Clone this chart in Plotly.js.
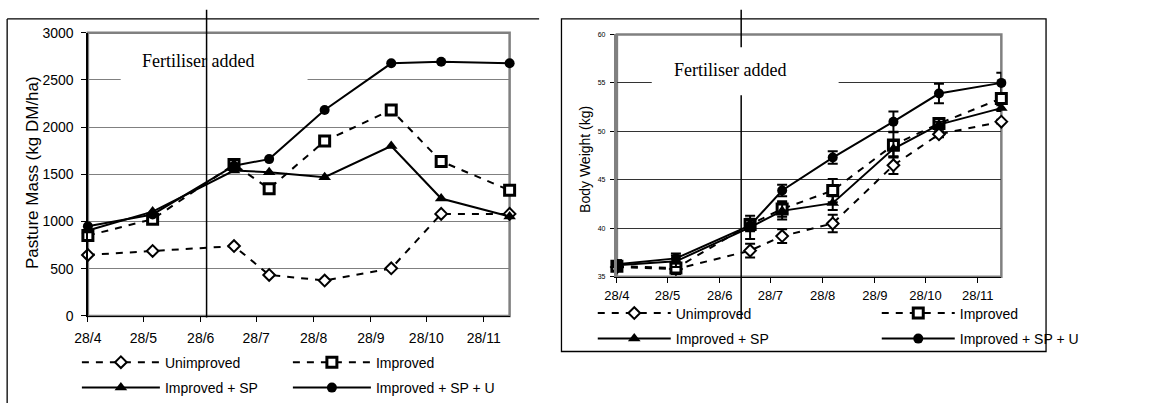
<!DOCTYPE html>
<html>
<head>
<meta charset="utf-8">
<script src="https://cdn.plot.ly/plotly-3.0.1.min.js"></script>
<style>html,body{margin:0;padding:0;background:#fff;}#chart{width:1161px;height:404px;}</style>
</head>
<body>
<div id="chart"></div>
<script>
// ---- data ----
const sampleDates = ['2003-04-28','2003-06-02','2003-07-16','2003-08-04','2003-09-03','2003-10-09','2003-11-05','2003-12-12'];
const tickDates = ['2003-04-28','2003-05-28','2003-06-28','2003-07-28','2003-08-28','2003-09-28','2003-10-28','2003-11-28'];
const tickLabels = ['28/4','28/5','28/6','28/7','28/8','28/9','28/10','28/11'];
const seriesNames = ['Unimproved','Improved','Improved + SP','Improved + SP + U'];

// Pasture mass (kg DM/ha)
const pastureUnimproved = [646, 688, 740, 434, 375, 504, 1081, 1081];
const pastureImproved   = [851, 1025, 1605, 1348, 1852, 2182, 1637, 1331];
const pastureSP         = [905, 1105, 1540, 1522, 1470, 1800, 1244, 1053];
const pastureSPU        = [950, 1075, 1591, 1661, 2182, 2676, 2693, 2676];

// Body weight (kg) and standard errors
const weightUnimproved = [36.0, 35.8, 37.7, 39.2, 40.5, 46.5, 49.7, 51.0];
const weightImproved   = [36.1, 35.9, 40.4, 42.0, 43.9, 48.6, 50.8, 53.4];
const weightSP         = [36.2, 36.6, 40.1, 41.8, 42.6, 48.2, 50.7, 52.4];
const weightSPU        = [36.3, 36.9, 40.3, 43.9, 47.3, 51.0, 53.9, 55.0];
const errUnimproved = [0.4, 0.5, 0.7, 0.7, 0.9, 0.9, 0.3, 0.2];
const errImproved   = [0.5, 0.6, 0.6, 0.8, 1.2, 1.3, 0.3, 0.4];
const errSP         = [0.5, 0.6, 1.2, 0.9, 0.7, 0.8, 0.3, 0.3];
const errSPU        = [0.4, 0.5, 0.6, 0.6, 0.65, 1.05, 1.0, 1.05];

const fertiliserDateLeft = '2003-07-01 04:00';
const fertiliserDateRight = '2003-07-10 17:00';

// ---- styles ----
const W = 1161, H = 404;
const px = v => v / W;
const py = v => 1 - v / H;
const sans = '"Liberation Sans", Arial, sans-serif';
const serif = '"Liberation Serif", "Times New Roman", serif';

const styles = [
  {dash: '7px,7px', marker: {symbol: 'diamond', size: 9, color: '#fff', line: {color: '#000', width: 2}}},
  {dash: '7px,7px', marker: {symbol: 'square', size: 10, color: '#fff', line: {color: '#000', width: 3}}},
  {dash: 'solid', marker: {symbol: 'triangle-up', size: 11, color: '#000', line: {color: '#000', width: 0}}},
  {dash: 'solid', marker: {symbol: 'circle', size: 10, color: '#000', line: {color: '#000', width: 0}}}
];

const pastureSeries = [pastureUnimproved, pastureImproved, pastureSP, pastureSPU];
const weightSeries = [weightUnimproved, weightImproved, weightSP, weightSPU];
const errSeries = [errUnimproved, errImproved, errSP, errSPU];

const traces = [];
pastureSeries.forEach((ys, i) => {
  traces.push({
    type: 'scatter', mode: 'lines+markers', x: sampleDates, y: ys, name: seriesNames[i],
    xaxis: 'x', yaxis: 'y', cliponaxis: false,
    legend: i < 2 ? 'legend' : 'legend2',
    line: {color: '#000', width: 2, dash: styles[i].dash},
    marker: styles[i].marker
  });
});
weightSeries.forEach((ys, i) => {
  traces.push({
    type: 'scatter', mode: 'lines+markers', x: sampleDates, y: ys, name: seriesNames[i],
    xaxis: 'x2', yaxis: 'y2', cliponaxis: false,
    legend: i < 2 ? 'legend3' : 'legend4',
    line: {color: '#000', width: 2, dash: styles[i].dash},
    marker: styles[i].marker,
    error_y: {type: 'data', array: errSeries[i], visible: true, color: '#000', thickness: 2, width: 5}
  });
});

const legendBase = {orientation: 'h', bgcolor: 'rgba(0,0,0,0)', borderwidth: 0,
  font: {family: sans, size: 14, color: '#000'}, entrywidthmode: 'pixels',
  xanchor: 'left', yanchor: 'middle', traceorder: 'normal', itemclick: false};

const xBase = {type: 'date', range: ['2003-04-28', '2003-12-12'], tickvals: tickDates, ticktext: tickLabels,
  showgrid: false, showline: true, linecolor: '#000', linewidth: 1.5, ticks: 'outside', ticklen: 5,
  tickcolor: '#000', zeroline: false, fixedrange: true};

const layout = {
  width: W, height: H, margin: {l: 0, r: 0, t: 0, b: 0},
  paper_bgcolor: '#fff', plot_bgcolor: 'rgba(0,0,0,0)', showlegend: true,
  font: {family: sans, color: '#000'},
  xaxis: Object.assign({}, xBase, {domain: [px(98.3), px(570)], anchor: 'y',
    tickfont: {family: sans, size: 14}, ticklabelstandoff: 4}),
  yaxis: {domain: [py(321.5), py(33.3)], anchor: 'x', range: [0, 3000], dtick: 500, tick0: 0,
    showline: true, linecolor: '#000', linewidth: 1.5, ticks: 'outside', ticklen: 5, tickcolor: '#000',
    showgrid: true, gridcolor: '#808080', gridwidth: 1, zeroline: false,
    tickfont: {family: sans, size: 14}, ticklabelstandoff: 5, fixedrange: true},
  xaxis2: Object.assign({}, xBase, {domain: [px(690), px(1120)], anchor: 'y2',
    tickfont: {family: sans, size: 13}, ticklabelstandoff: 1}),
  yaxis2: {domain: [py(281.7), py(35)], anchor: 'x2', range: [35, 60], dtick: 5, tick0: 35,
    showline: true, linecolor: '#808080', linewidth: 3, ticks: 'outside', ticklen: 4, tickcolor: '#000',
    showgrid: true, gridcolor: '#333', gridwidth: 1, zeroline: false,
    tickfont: {family: sans, size: 7}, ticklabelstandoff: 3, fixedrange: true},
  legend: Object.assign({}, legendBase, {x: px(86), y: py(369), entrywidth: 118, itemwidth: 78}),
  legend2: Object.assign({}, legendBase, {x: px(86), y: py(395), entrywidth: 118, itemwidth: 78}),
  legend3: Object.assign({}, legendBase, {x: px(663), y: py(319), entrywidth: 196, itemwidth: 73}),
  legend4: Object.assign({}, legendBase, {x: px(663), y: py(345), entrywidth: 196, itemwidth: 73}),
  shapes: [
    // outer frames
    {type: 'line', xref: 'paper', yref: 'paper', x0: px(8), x1: px(603), y0: py(19.3), y1: py(19.3), line: {color: '#000', width: 1.3}},
    {type: 'line', xref: 'paper', yref: 'paper', x0: px(8), x1: px(8), y0: py(19.3), y1: py(410), line: {color: '#000', width: 1.3}},
    {type: 'rect', xref: 'paper', yref: 'paper', x0: px(628), x1: px(1170), y0: py(19.3), y1: py(357.7), line: {color: '#000', width: 1.3}},
    // plot area borders (grey)
    {type: 'rect', xref: 'x domain', yref: 'y domain', x0: 0, x1: 1, y0: 0, y1: 1, layer: 'below', line: {color: '#808080', width: 2.5}},
    {type: 'rect', xref: 'x2 domain', yref: 'y2 domain', x0: 0, x1: 1, y0: 0, y1: 1, layer: 'below', line: {color: '#808080', width: 2.5}},
    // white boxes behind the label
    {type: 'rect', xref: 'paper', yref: 'paper', x0: px(135), x1: px(344), y0: py(46), y1: py(88), layer: 'above', fillcolor: '#fff', line: {width: 0}},
    {type: 'rect', xref: 'paper', yref: 'paper', x0: px(729), x1: px(938), y0: py(48), y1: py(97), layer: 'above', fillcolor: '#fff', line: {width: 0}},
    // fertiliser lines
    {type: 'line', xref: 'x', yref: 'paper', x0: fertiliserDateLeft, x1: fertiliserDateLeft, y0: py(10), y1: py(323), layer: 'above', line: {color: '#000', width: 1.5}},
    {type: 'line', xref: 'x2', yref: 'paper', x0: fertiliserDateRight, x1: fertiliserDateRight, y0: py(10), y1: py(48), layer: 'above', line: {color: '#000', width: 1.5}},
    {type: 'line', xref: 'x2', yref: 'paper', x0: fertiliserDateRight, x1: fertiliserDateRight, y0: py(97), y1: py(325), layer: 'above', line: {color: '#000', width: 1.5}}
  ],
  annotations: [
    {text: 'Fertiliser added', xref: 'paper', yref: 'paper', x: px(221), y: py(62), showarrow: false,
      xanchor: 'center', yanchor: 'middle', font: {family: serif, size: 18, color: '#000'}},
    {text: 'Fertiliser added', xref: 'paper', yref: 'paper', x: px(817), y: py(71), showarrow: false,
      xanchor: 'center', yanchor: 'middle', font: {family: serif, size: 18, color: '#000'}},
    {text: 'Pasture Mass (kg DM/ha)', xref: 'paper', yref: 'paper', x: px(37), y: py(176), textangle: -90,
      showarrow: false, xanchor: 'center', yanchor: 'middle', font: {family: sans, size: 17, color: '#000'}},
    {text: 'Body Weight (kg)', xref: 'paper', yref: 'paper', x: px(654), y: py(162), textangle: -90,
      showarrow: false, xanchor: 'center', yanchor: 'middle', font: {family: sans, size: 14, color: '#000'}}
  ]
};

Plotly.newPlot('chart', traces, layout, {staticPlot: true, displayModeBar: false});
</script>
</body>
</html>
